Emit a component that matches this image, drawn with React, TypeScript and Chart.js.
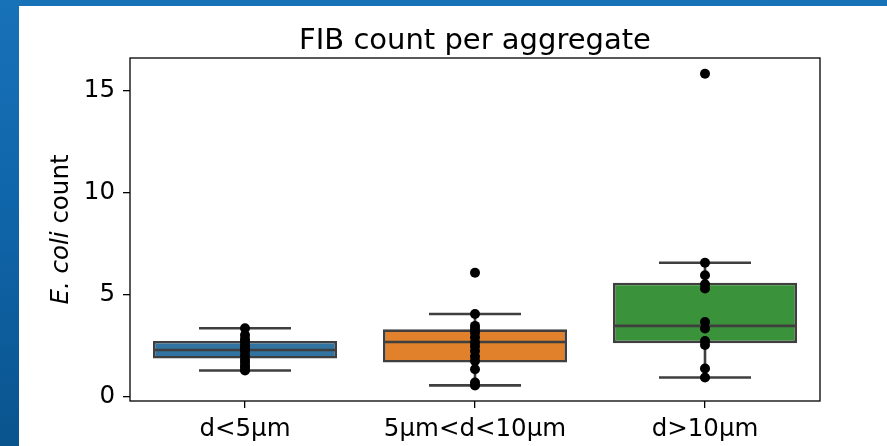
import React, { useEffect, useRef } from "react";
import { Chart, registerables } from "chart.js";
Chart.register(...registerables);

const categories = ["d<5µm", "5µm<d<10µm", "d>10µm"];
const boxColors = ["#3274a1", "#e1812c", "#3a923a"];
const whiskerLow = [1.26, 0.53, 0.92];
const q1 = [1.85, 1.65, 2.6];
const median = [2.27, 2.66, 3.45];
const q3 = [2.71, 3.28, 5.57];
const whiskerHigh = [3.33, 4.03, 6.55];
const pointsSmall = [3.33, 3.0, 2.8, 2.67, 2.5, 2.4, 2.33, 2.2, 2.0, 1.8, 1.67, 1.5, 1.4, 1.26];
const pointsMid = [6.06, 4.03, 3.45, 3.3, 3.12, 2.89, 2.65, 2.45, 2.22, 1.95, 1.73, 1.32, 0.67, 0.53];
const pointsLarge = [15.82, 6.55, 5.93, 5.49, 5.28, 3.64, 3.32, 2.71, 2.51, 1.36, 0.92];
const yTicks = [0, 5, 10, 15];
const yMin = -0.235;
const yMax = 16.59;
const titleText = "FIB count per aggregate";
const yLabelItalic = "E. coli";
const yLabelRest = " count";

const FONT = "'DejaVu Sans', sans-serif";
const EDGE = "#3f3f3f";

const boxPlugin = {
  id: "boxWhiskers",
  afterDatasetDraw(chart: any, args: any) {
    if (args.index !== 0) return;
    const ctx = chart.ctx;
    const ys = chart.scales.y;
    const meta = args.meta;
    ctx.save();
    ctx.strokeStyle = EDGE;
    ctx.lineWidth = 2.6;
    ctx.lineCap = "butt";
    meta.data.forEach((bar: any, i: number) => {
      const x = bar.x;
      const w = bar.width;
      const cap = w / 4;
      const yl = ys.getPixelForValue(whiskerLow[i]);
      const yh = ys.getPixelForValue(whiskerHigh[i]);
      const y1 = ys.getPixelForValue(q1[i]);
      const y3 = ys.getPixelForValue(q3[i]);
      const ym = ys.getPixelForValue(median[i]);
      ctx.beginPath();
      ctx.moveTo(x, y3);
      ctx.lineTo(x, yh);
      ctx.moveTo(x, y1);
      ctx.lineTo(x, yl);
      ctx.moveTo(x - cap, yh);
      ctx.lineTo(x + cap, yh);
      ctx.moveTo(x - cap, yl);
      ctx.lineTo(x + cap, yl);
      ctx.moveTo(x - w / 2 + 1, ym);
      ctx.lineTo(x + w / 2 - 1, ym);
      ctx.stroke();
    });
    ctx.restore();
  },
};

const framePlugin = {
  id: "frameAndLabels",
  afterDraw(chart: any) {
    const ctx = chart.ctx;
    const a = chart.chartArea;
    ctx.save();
    ctx.strokeStyle = "#000";
    ctx.lineWidth = 1.3;
    ctx.strokeRect(a.left, a.top, a.right - a.left, a.bottom - a.top);
    // title
    ctx.fillStyle = "#000";
    ctx.font = `29px ${FONT}`;
    ctx.textAlign = "center";
    ctx.textBaseline = "alphabetic";
    ctx.fillText(titleText, (a.left + a.right) / 2, 49);
    // y label
    ctx.translate(68, (a.top + a.bottom) / 2);
    ctx.rotate(-Math.PI / 2);
    ctx.textBaseline = "alphabetic";
    ctx.textAlign = "left";
    const fi = `italic 24.5px ${FONT}`;
    const fr = `24.5px ${FONT}`;
    ctx.font = fi;
    const w1 = ctx.measureText(yLabelItalic).width;
    ctx.font = fr;
    const w2 = ctx.measureText(yLabelRest).width;
    const start = -(w1 + w2) / 2;
    ctx.font = fi;
    ctx.fillText(yLabelItalic, start, 0);
    ctx.font = fr;
    ctx.fillText(yLabelRest, start + w1, 0);
    ctx.restore();
  },
};

export default function App() {
  const ref = useRef<HTMLCanvasElement | null>(null);
  useEffect(() => {
    if (!ref.current) return;
    const mk = (vals: number[], idx: number) => vals.map((v) => ({ x: categories[idx], y: v }));
    const chart = new Chart(ref.current, {
      type: "bar",
      data: {
        labels: categories,
        datasets: [
          {
            type: "bar",
            data: categories.map((_, i) => [q1[i], q3[i]]) as any,
            backgroundColor: boxColors,
            borderColor: EDGE,
            borderWidth: 2.6,
            borderSkipped: false,
            categoryPercentage: 0.8,
            barPercentage: 1,
            order: 1,
          } as any,
          {
            type: "scatter",
            data: [...mk(pointsSmall, 0), ...mk(pointsMid, 1), ...mk(pointsLarge, 2)],
            backgroundColor: "#000",
            borderColor: "#000",
            borderWidth: 0,
            pointRadius: 5,
            showLine: false,
            order: 0,
          } as any,
        ],
      },
      options: {
        responsive: false,
        animation: false,
        events: [],
        layout: { padding: { top: 58, right: 67, left: 0, bottom: 0 } },
        plugins: { legend: { display: false }, title: { display: false }, tooltip: { enabled: false } },
        scales: {
          x: {
            type: "category",
            offset: true,
            afterFit: (s: any) => { s.height = 45; },
            grid: { offset: false, drawOnChartArea: false, drawTicks: true, tickLength: 7, color: "#000", lineWidth: 1.3 },
            border: { display: false },
            ticks: { color: "#000", font: { family: FONT, size: 24.5 }, padding: 7, maxRotation: 0, autoSkip: false },
          },
          y: {
            type: "linear",
            min: yMin,
            max: yMax,
            afterFit: (s: any) => { s.width = 130; },
            afterBuildTicks: (s: any) => { s.ticks = yTicks.map((v) => ({ value: v })); },
            grid: { drawOnChartArea: false, drawTicks: true, tickLength: 7, color: "#000", lineWidth: 1.3 },
            border: { display: false },
            ticks: { color: "#000", font: { family: FONT, size: 24.5 }, padding: 8 },
          },
        },
      },
      plugins: [boxPlugin, framePlugin],
    });
    return () => chart.destroy();
  }, []);
  return (
    <div
      style={{
        position: "fixed",
        inset: 0,
        background: "linear-gradient(180deg, #1872b8 0%, #0f64a8 50%, #0a548e 100%)",
      }}
    >
      <div style={{ position: "absolute", left: 19, top: 6, right: 0, bottom: 0, background: "#fff" }} />
      <canvas ref={ref} width={887} height={446} style={{ position: "absolute", left: 0, top: 0 }} />
    </div>
  );
}
